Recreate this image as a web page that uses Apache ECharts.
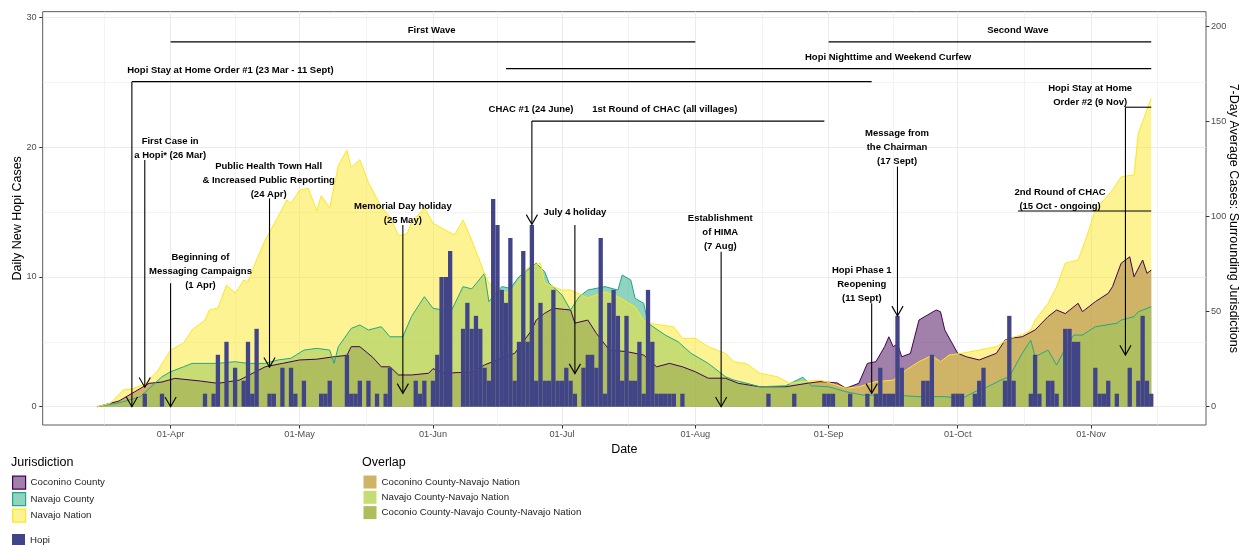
<!DOCTYPE html>
<html><head><meta charset="utf-8">
<script src="https://cdn.jsdelivr.net/npm/echarts@6/dist/echarts.min.js"></script>
<style>html,body{margin:0;padding:0;background:#fff}#c{width:1239px;height:545px}</style>
</head><body><div id="c"></div>
<script>
// day index: 0 = 01-Apr-2020
const tickDays = [0, 30, 61, 91, 122, 153, 183, 214];
const tickLabels = ['01-Apr', '01-May', '01-Jun', '01-Jul', '01-Aug', '01-Sep', '01-Oct', '01-Nov'];
const minorTickDays = [-15.5, 15, 45.5, 76, 106.5, 137.5, 168, 198.5, 229.5];
const leftTicks = [0, 10, 20, 30];
const leftMinorTicks = [5, 15, 25];
const rightTicks = [0, 50, 100, 150, 200];

// Hopi daily new cases, first value is day -17 (15 Mar)
const hopiStartDay = -17;
const hopiCases = [
  0,0,0,0,0,0,0,0,0,0,0, 1, 0,0,0, 1, 0,0,0,0,0,0,0,0,0,
  1,0,1,4,0,5,0,3,0,2,5,1,6,0,0,1,1,0,3,0,3,1,0,2,0,0,0,1,1,2,0,0,0,4,1,1,2,0,2,0,1,0,1,3,
  0,0,0,0,0,2,1,2,0,2,4,10,10,12,0,0,6,8,6,7,6,3,2,16,14,9,8,13,2,5,12,5,14,2,8,2,2,9,
  2,2,3,2,1,0,3,4,4,3,13,1,8,9,7,2,7,2,2,5,1,9,5,1,1,1,1,1,0,1,
  0,0,0,0,0,0,0,0,0,0,0,0,0,0,0,0,0,0,0, 1, 0,0,0,0,0, 1, 0,0,0,0,0,0, 1,1,1, 0,0,0, 1, 0,0,0, 1, 0,
  1,3,1,1,1,7,3, 0,0,0,0, 2,2,4, 0,0,0,0, 1,1,1, 0,0, 1,2,3, 0,0,0,0, 2,7,2, 0,0,0, 1,4,1,0,2,2,1,0,6,6,5,5,
  0,0,0, 3,1,1,2,0,1,0,0,3,0,2,7,2,1
];

// 7-day average cases [day, value] (right axis)
const coconinoAvg = [[-17,0],[-12,3],[-5,12.3],[-2,13],[1,14.9],[7,13.5],[11,12.3],[16,14],[22,21],[26,22.8],[30,24.6],[34,25],[38,26.3],[41,27],[42,31.6],[44,31.6],[47,26],[49,21],[51,21],[53,16.7],[56,16.7],[60,17.6],[61,20],[64,17.6],[67,18],[70,18],[73,22],[77,25.5],[80,28.1],[84,40.4],[85,45.6],[87,49.2],[89,51.8],[93,50.9],[94,44],[97,45.6],[99,38.6],[102,29.8],[106,29],[110,27.2],[113,21],[116,22.8],[119,21],[122,18.4],[125,15],[129,15],[132,12.3],[137,10.5],[143,10.5],[148,12.3],[151,13.2],[155,12.5],[157,9.7],[160,12.3],[162,22.8],[164,23.7],[166,31.6],[167,36.8],[168,31.6],[169,33],[170,26.3],[172,28],[173,36.8],[174,45.6],[176,48.3],[178,50.9],[179,50],[180,40.4],[183,28.1],[185,26.3],[188,24.6],[192,28.1],[194,35],[195,36],[198,36.8],[201,40.4],[204,47.4],[206,50.9],[208,49],[211,54.4],[212,50],[215,55.3],[218,59.7],[219,63.2],[221,75.5],[222,77.2],[223,78.9],[224,68.4],[226,77.2],[227,70.2],[228,71.9]];
const navajoCountyAvg = [[-17,0],[-12,2],[-7,5.3],[-2,15.8],[0,18.4],[3,21],[5,22.8],[11,22.8],[15,23.7],[18,22.8],[22,22.8],[25,24.6],[28,25.5],[31,29.8],[34,30.7],[37,29.8],[38,22.8],[39,31.6],[42,41.2],[44,43],[46,40.4],[49,42.1],[51,36.8],[54,36.8],[56,47.4],[59,57.9],[61,51.8],[63,51],[65,49.2],[68,63.2],[70,62],[73,70.2],[74,55.3],[77,63.2],[79,62.3],[81,68.4],[85,75.5],[87,71],[88,65],[91,58.8],[93,50.9],[95,57.9],[97,61.4],[101,63.2],[104,61.4],[105,69.3],[107,66.7],[108,57],[110,54.4],[111,43.9],[115,37.7],[118,34.2],[121,28.1],[125,22.8],[129,15.8],[131,14],[134,12.3],[137,10.5],[143,11],[147,15.5],[149,11],[153,10.5],[157,7.9],[161,6.1],[168,6.1],[174,5.3],[180,5.3],[184,4.4],[187,7.9],[190,10.5],[193,14],[195,15.8],[198,28.1],[200,35],[201,26.3],[204,29.8],[206,21.9],[208,30.7],[210,37.7],[212,37.7],[215,42.1],[220,43.9],[221,45.6],[224,47.4],[225,50],[228,52.6]];
const navajoNationAvg = [[-17,0],[-14,1.8],[-11,8.8],[-9,9.3],[-6,12],[-3,18.9],[0,29.8],[3,33.5],[5,40.4],[8,45.6],[9,50.9],[11,51.9],[13,64],[15,59.8],[16,63],[17,66.7],[18,65.8],[20,77.2],[22,87.7],[25,100],[27,108.8],[28,107],[30,114],[32,115],[34,103],[35,111],[37,104.6],[39,127],[41,135],[42,125.8],[44,130],[46,118],[49,105],[51,100],[53,90],[55,91],[56,97],[59,104.6],[61,96.6],[63,94],[66,90.4],[68,98.2],[70,87.7],[73,70],[74,65],[77,60.5],[79,59.7],[83,73],[86,75.6],[87,65],[91,61.4],[93,61.4],[97,57.2],[101,60.5],[104,57.9],[108,52.6],[110,45.6],[111,44],[117,42],[119,36],[122,36],[125,31.6],[129,28],[131,23.7],[134,22.5],[137,17.6],[141,15.8],[144,12.3],[147,13.2],[151,14],[154,12],[157,9.7],[160,10.5],[164,13.2],[168,14],[171,19.3],[174,23.7],[177,27],[179,23.7],[181,27.2],[184,28.1],[188,29.8],[192,31.6],[195,36],[198,37.9],[200,40.4],[201,45.6],[204,54.4],[206,63],[208,75.5],[211,77.2],[213,89.5],[215,103.5],[217,108.8],[219,114],[221,121],[224,122],[225,143.9],[228,162.3]];

// annotations (left-axis units)
const spans = [[0,122,28.1],[153,228,28.1],[78,228,26.04],[-9,163,25.04],[84,152,22.0],[197,228,15.08],[222,228,23.07]];
const arrows = [[-9,25.04,0],[-6,19.0,1.5],[0,9.5,0],[23,16.05,3.05],[54,14.0,1.03],[84,22.0,14.05],[94,14.0,2.55],[128,11.94,0],[163,7.97,1.03],[169,18.5,7.0],[222,23.07,3.98]];
const notes = [
  [60.7,29.02,'First Wave'],[197.0,29.02,'Second Wave'],[166.8,26.94,'Hopi Nighttime and Weekend Curfew'],
  [13.9,25.94,'Hopi Stay at Home Order #1 (23 Mar - 11 Sept)'],[83.8,22.9,'CHAC #1 (24 June)'],
  [114.9,22.9,'1st Round of CHAC (all villages)'],[-0.1,19.93,'First Case in\na Hopi* (26 Mar)'],
  [6.95,10.43,'Beginning of\nMessaging Campaigns\n(1 Apr)'],[22.8,17.41,'Public Health Town Hall\n& Increased Public Reporting\n(24 Apr)'],
  [54.0,14.92,'Memorial Day holiday\n(25 May)'],[94.0,14.95,'July 4 holiday'],[127.8,13.43,'Establishment\nof HIMA\n(7 Aug)'],
  [160.7,9.44,'Hopi Phase 1\nReopening\n(11 Sept)'],[168.9,19.94,'Message from\nthe Chairman\n(17 Sept)'],
  [206.8,15.95,'2nd Round of CHAC\n(15 Oct - ongoing)'],[213.8,23.95,'Hopi Stay at Home\nOrder #2 (9 Nov)']
];

const FONT = '"Liberation Sans", Arial, Helvetica, sans-serif';
const X_MIN = -29.74, X_MAX = 240.73;
const L_MIN = -1.41, L_MAX = 30.43;
const R_MIN = -9.63, R_MAX = 207.9;

const hopiData = hopiCases.map((v, i) => [hopiStartDay + i, v]);

const chart = echarts.init(document.getElementById('c'), null, {renderer: 'canvas'});
const hidden = {axisLine:{show:false, onZero:false}, axisTick:{show:false}, axisLabel:{show:false}};
const nameStyle = {fontFamily: FONT, fontSize: 12.5, color: '#000', align: 'center', verticalAlign: 'middle'};

const option = {
  animation: false,
  backgroundColor: '#fff',
  grid: {left: 42.67, top: 11.67, width: 1163.33, height: 413.33, show: true, borderColor: '#5c5c5c', borderWidth: 1,
         backgroundColor: 'transparent', containLabel: false, outerBoundsMode: 'none'},
  title: [
    {text: 'Jurisdiction', left: 11, top: 456, padding: 0, textStyle: {fontFamily: FONT, fontSize: 12.5, fontWeight: 'normal', color: '#000'}},
    {text: 'Overlap', left: 362, top: 456, padding: 0, textStyle: {fontFamily: FONT, fontSize: 12.5, fontWeight: 'normal', color: '#000'}}
  ],
  legend: [
    {orient: 'vertical', left: 12, top: 475.5, padding: 0, itemWidth: 13, itemHeight: 13, itemGap: 2.3, icon: 'rect', selectedMode: false,
     textStyle: {fontFamily: FONT, fontSize: 9.7, color: '#222'},
     data: [
       {name: 'Coconino County', itemStyle: {color: 'rgba(68,1,84,0.5)', borderColor: '#440154', borderWidth: 1.2}},
       {name: 'Navajo County', itemStyle: {color: 'rgba(34,168,132,0.5)', borderColor: '#22A884', borderWidth: 1.2}},
       {name: 'Navajo Nation', itemStyle: {color: 'rgba(253,231,37,0.5)', borderColor: '#FDE725', borderWidth: 1.2}}
     ]},
    {orient: 'vertical', left: 12, top: 534, padding: 0, itemWidth: 13, itemHeight: 13, icon: 'rect', selectedMode: false,
     textStyle: {fontFamily: FONT, fontSize: 9.7, color: '#222'},
     data: [{name: 'Hopi', itemStyle: {color: '#414487', borderWidth: 0}}]},
    {orient: 'vertical', left: 363.5, top: 475.5, padding: 0, itemWidth: 13, itemHeight: 13, itemGap: 2.3, icon: 'rect', selectedMode: false,
     textStyle: {fontFamily: FONT, fontSize: 9.7, color: '#222'},
     data: [
       {name: 'Coconino County-Navajo Nation', itemStyle: {color: '#CFB367', borderWidth: 0}},
       {name: 'Navajo County-Navajo Nation', itemStyle: {color: '#C6DD73', borderWidth: 0}},
       {name: 'Coconio County-Navajo County-Navajo Nation', itemStyle: {color: '#AFBD5D', borderWidth: 0}}
     ]}
  ],
  xAxis: [
    {type: 'value', min: X_MIN, max: X_MAX, position: 'bottom',
     axisLine: {show: false, onZero: false},
     axisTick: {show: true, length: 3.5, customValues: tickDays, lineStyle: {color: '#333', width: 1}},
     axisLabel: {customValues: tickDays, margin: 5, color: '#4d4d4d', fontFamily: FONT, fontSize: 9.2,
                 formatter: v => { const i = tickDays.indexOf(Math.round(v)); return i >= 0 ? tickLabels[i] : ''; }},
     splitLine: {show: true, lineStyle: {color: '#ebebeb', width: 1}},
     name: 'Date', nameLocation: 'middle', nameGap: 25, nameMoveOverlap: false, nameTextStyle: nameStyle},
    Object.assign({type: 'value', min: X_MIN, max: X_MAX, position: 'bottom',
     splitLine: {show: true, lineStyle: {color: '#ebebeb', width: 0.6}}}, hidden,
     {axisTick: {show: false, customValues: minorTickDays}})
  ],
  yAxis: [
    {type: 'value', min: L_MIN, max: L_MAX, position: 'left',
     axisLine: {show: false, onZero: false},
     axisTick: {show: true, length: 3.4, customValues: leftTicks, lineStyle: {color: '#333'}},
     axisLabel: {customValues: leftTicks, margin: 6, color: '#4d4d4d', fontFamily: FONT, fontSize: 9.2},
     splitLine: {show: true, lineStyle: {color: '#ebebeb', width: 1}},
     name: 'Daily New Hopi Cases', nameLocation: 'middle', nameGap: 25.2, nameRotate: 90, nameMoveOverlap: false, nameTextStyle: nameStyle},
    {type: 'value', min: R_MIN, max: R_MAX, position: 'right',
     axisLine: {show: false, onZero: false},
     axisTick: {show: true, length: 3.4, customValues: rightTicks, lineStyle: {color: '#333'}},
     axisLabel: {customValues: rightTicks, margin: 5, color: '#4d4d4d', fontFamily: FONT, fontSize: 9.2},
     splitLine: {show: false},
     name: '7-Day Average Cases: Surrounding Jurisdictions', nameLocation: 'middle', nameGap: 27.5, nameRotate: -90, nameMoveOverlap: false, nameTextStyle: nameStyle},
    Object.assign({type: 'value', min: L_MIN, max: L_MAX, position: 'left',
     splitLine: {show: true, lineStyle: {color: '#ebebeb', width: 0.6}}}, hidden,
     {axisTick: {show: false, customValues: leftMinorTicks}})
  ],
  series: [
    {name: 'Coconino County', type: 'line', z: 2, xAxisIndex: 0, yAxisIndex: 1, data: coconinoAvg, symbol: 'none',
     lineStyle: {color: '#440154', width: 1}, areaStyle: {color: '#440154', opacity: 0.5}, itemStyle: {color: '#440154'}},
    {name: 'Navajo County', type: 'line', z: 2, xAxisIndex: 0, yAxisIndex: 1, data: navajoCountyAvg, symbol: 'none',
     lineStyle: {color: '#22A884', width: 1}, areaStyle: {color: '#22A884', opacity: 0.5}, itemStyle: {color: '#22A884'}},
    {name: 'Navajo Nation', type: 'line', z: 2, xAxisIndex: 0, yAxisIndex: 1, data: navajoNationAvg, symbol: 'none',
     lineStyle: {color: '#FDE725', width: 1}, areaStyle: {color: '#FDE725', opacity: 0.5}, itemStyle: {color: '#FDE725'}},
    {name: 'Coconino County-Navajo Nation', type: 'line', data: []},
    {name: 'Navajo County-Navajo Nation', type: 'line', data: []},
    {name: 'Coconio County-Navajo County-Navajo Nation', type: 'line', data: []},
    {name: 'Hopi', type: 'bar', z: 4, xAxisIndex: 0, yAxisIndex: 0, data: hopiData, barWidth: 4.3,
     itemStyle: {color: '#414487'}},
    {type: 'custom', xAxisIndex: 0, yAxisIndex: 0, z: 5, data: spans, silent: true,
     renderItem: (params, api) => {
       const a = api.coord([api.value(0), api.value(2)]);
       const b = api.coord([api.value(1), api.value(2)]);
       return {type: 'line', shape: {x1: a[0], y1: a[1], x2: b[0], y2: b[1]}, style: {stroke: '#000', lineWidth: 1.1}};
     }},
    {type: 'custom', xAxisIndex: 0, yAxisIndex: 0, z: 5, data: arrows, silent: true,
     renderItem: (params, api) => {
       const a = api.coord([api.value(0), api.value(1)]);
       const b = api.coord([api.value(0), api.value(2)]);
       return {type: 'group', children: [
         {type: 'line', shape: {x1: a[0], y1: a[1], x2: b[0], y2: b[1]}, style: {stroke: '#000', lineWidth: 1.1}},
         {type: 'polyline', shape: {points: [[b[0] - 5.6, b[1] - 9.7], [b[0], b[1]], [b[0] + 5.6, b[1] - 9.7]]}, style: {stroke: '#000', fill: null, lineWidth: 1.1}}
       ]};
     }},
    {type: 'custom', xAxisIndex: 0, yAxisIndex: 0, z: 6, silent: true,
     data: notes.map(n => [n[0], n[1], n[2]]),
     dimensions: ['x', 'y', {name: 'label', type: 'ordinal'}],
     renderItem: (params, api) => {
       const p = api.coord([api.value(0), api.value(1)]);
       const txt = notes[params.dataIndex][2];
       return {type: 'text', x: p[0], y: p[1], style: {text: txt, fill: '#000', align: 'center', verticalAlign: 'middle',
               font: 'bold 9.5px ' + FONT, lineHeight: 14}};
     }}
  ]
};
chart.setOption(option);
</script></body></html>
